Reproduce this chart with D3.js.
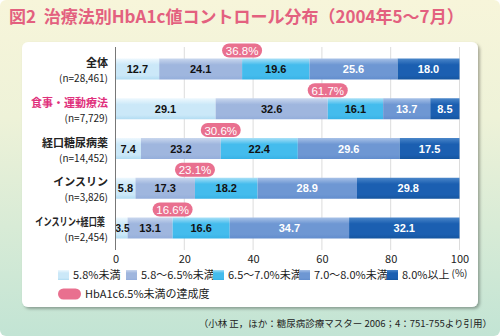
<!DOCTYPE html>
<html><head><meta charset="utf-8">
<script src="https://cdn.jsdelivr.net/npm/d3@7/dist/d3.min.js"></script>
<style>
html,body{margin:0;padding:0;background:#fff;}
svg{display:block;font-family:"Noto Sans CJK JP","Noto Sans",sans-serif;}
</style></head>
<body>
<svg id="chart" width="500" height="336"></svg>
<script>
const categories = ["全体","食事・運動療法","経口糖尿病薬","インスリン","インスリン+経口薬"];
const sampleSizes = ["28,461","7,729","14,452","3,826","2,454"];
const seriesNames = ["5.8%未満","5.8〜6.5%未満","6.5〜7.0%未満","7.0〜8.0%未満","8.0%以上"];
const s1 = [12.7, 29.1, 7.4, 5.8, 3.5];
const s2 = [24.1, 32.6, 23.2, 17.3, 13.1];
const s3 = [19.6, 16.1, 22.4, 18.2, 16.6];
const s4 = [25.6, 13.7, 29.6, 28.9, 34.7];
const s5 = [18.0, 8.5, 17.5, 29.8, 32.1];
const achieved = [36.8, 61.7, 30.6, 23.1, 16.6];
const xTicks = [0, 20, 40, 60, 80, 100];

const seriesValues = [s1, s2, s3, s4, s5];
const colors = [
  {top:"#eef8fe", mid:"#cbe8f8", bot:"#b2dcf2", text:"#111"},
  {top:"#c9d7ee", mid:"#9fb6de", bot:"#94aedb", text:"#111"},
  {top:"#a9e0f7", mid:"#44bced", bot:"#38b2e6", text:"#111"},
  {top:"#a7c1e7", mid:"#6e97d3", bot:"#628dcd", text:"#fff"},
  {top:"#4a86c9", mid:"#1b5fb1", bot:"#15559f", text:"#fff"}
];
const pink = "#e9708f";

const svg = d3.select("#chart");
const defs = svg.append("defs");

const bg = defs.append("linearGradient").attr("id","bg").attr("x1",0).attr("y1",0).attr("x2",0).attr("y2",1);
bg.append("stop").attr("offset","0").attr("stop-color","#f7f5da");
bg.append("stop").attr("offset","0.35").attr("stop-color","#eef2d8");
bg.append("stop").attr("offset","1").attr("stop-color","#c2e4d4");

colors.forEach((c,i)=>{
  const g = defs.append("linearGradient").attr("id","g"+i).attr("x1",0).attr("y1",0).attr("x2",0).attr("y2",1);
  g.append("stop").attr("offset","0").attr("stop-color",c.top);
  g.append("stop").attr("offset","0.3").attr("stop-color",c.mid);
  g.append("stop").attr("offset","0.8").attr("stop-color",c.mid);
  g.append("stop").attr("offset","1").attr("stop-color",c.bot);
});
const sh = defs.append("filter").attr("id","shadow").attr("x","-5%").attr("y","-5%").attr("width","110%").attr("height","115%");
sh.append("feDropShadow").attr("dx",2).attr("dy",2).attr("stdDeviation",1.5).attr("flood-color","#000").attr("flood-opacity",0.3);

// background
svg.append("rect").attr("x",0).attr("y",0).attr("width",500).attr("height",336).attr("rx",6).attr("fill","url(#bg)");

// title
svg.append("text").attr("x",9).attr("y",23).attr("fill","#e3607f").attr("font-size",17).attr("font-weight","bold")
  .attr("xml:space","preserve")
  .text("図2  治療法別HbA1c値コントロール分布（2004年5〜7月）");

// inner panel
svg.append("rect").attr("x",22).attr("y",42).attr("width",456).attr("height",265).attr("rx",6)
  .attr("fill","#fff").attr("filter","url(#shadow)");

const x = d3.scaleLinear().domain([0,100]).range([115.5,459.5]);
const yc = d3.scalePoint().domain(categories).range([69,228]);
const barH = 21;
const plotTop = 47, plotBottom = 250;

// gridlines
svg.append("g").selectAll("line").data(xTicks.slice(1)).join("line")
  .attr("x1",d=>x(d)).attr("x2",d=>x(d)).attr("y1",plotTop).attr("y2",plotBottom)
  .attr("stroke","#dcdcdc").attr("stroke-width",1);

// axis ticks text
const xAxis = d3.axisBottom(x).tickValues(xTicks).tickSize(0).tickPadding(0);
const ax = svg.append("g").attr("transform",`translate(0,${plotBottom+5})`).call(xAxis);
ax.select(".domain").remove();
ax.selectAll("text").attr("font-size",11).attr("fill","#222").attr("font-family","'Noto Sans CJK JP',sans-serif").attr("dy","0.71em");
svg.append("text").attr("x",x(100)).attr("y",277).attr("text-anchor","middle").attr("font-size",10).attr("fill","#222").text("(%)");

// bars
const rows = categories.map((c,i)=>{
  let acc = 0;
  return seriesValues.map((s,k)=>{ const seg = {cat:c, k, v:s[i], x0:acc, x1:acc+s[i]}; acc += s[i]; return seg; });
});
const gRows = svg.append("g").selectAll("g").data(rows).join("g");
gRows.selectAll("rect").data(d=>d).join("rect")
  .attr("x",d=>x(d.x0)).attr("width",d=>Math.max(0, x(Math.min(d.x1,100))-x(d.x0)))
  .attr("y",d=>yc(d.cat)-barH/2).attr("height",barH)
  .attr("fill",d=>`url(#g${d.k})`);
gRows.selectAll("text").data(d=>d).join("text")
  .attr("x",d=>x((d.x0+Math.min(d.x1,100))/2) + (d.v<5?1:0)).attr("y",d=>yc(d.cat)+4)
  .attr("text-anchor","middle").attr("font-size",d=>d.v<5?10:11)
  .attr("font-family","'Liberation Sans',Arial,sans-serif").attr("font-weight","bold")
  .attr("fill",d=>colors[d.k].text).text(d=>d.v.toFixed(1));

// axis line
svg.append("line").attr("x1",x(0)).attr("x2",x(0)).attr("y1",plotTop).attr("y2",plotBottom).attr("stroke","#777").attr("stroke-width",1);

// pills
const pills = svg.append("g").selectAll("g").data(categories).join("g")
  .attr("transform",(d,i)=>`translate(${x(achieved[i])},${yc(d)-barH/2-8})`);
pills.append("rect").attr("x",-20).attr("y",-7).attr("width",40).attr("height",14).attr("rx",7).attr("fill",pink);
pills.append("text").attr("y",4.5).attr("text-anchor","middle").attr("fill","#fff").attr("font-size",11.5)
  .attr("font-family","'Liberation Sans',Arial,sans-serif").text((d,i)=>achieved[i].toFixed(1)+"%");

// row labels
const labels = svg.append("g").selectAll("g").data(categories).join("g")
  .attr("transform",d=>`translate(108,${yc(d)})`);
labels.append("g")
  .attr("transform",d=> d.length > 7 ? "translate(-3,0) scale(0.74,1)" : null)
  .append("text").attr("y",-2).attr("text-anchor","end").attr("font-size",11).attr("font-weight","bold")
  .attr("fill",(d,i)=>i===1?"#e0307c":"#222")
  .text(d=>d);
labels.append("text").attr("y",13).attr("text-anchor","end").attr("font-size",10).attr("fill","#222")
  .text((d,i)=>`(n=${sampleSizes[i]})`);

// legend
const legX = [58, 126, 213, 299, 387];
const leg = svg.append("g").selectAll("g").data(seriesNames).join("g")
  .attr("transform",(d,i)=>`translate(${legX[i]},275)`);
leg.append("rect").attr("x",0).attr("y",-5).attr("width",11).attr("height",10).attr("fill",(d,i)=>`url(#g${i})`);
leg.append("text").attr("x",15).attr("y",4).attr("font-size",11).attr("fill","#222").text(d=>d);
const leg2 = svg.append("g").attr("transform","translate(58,294)");
leg2.append("rect").attr("x",0).attr("y",-5.5).attr("width",23).attr("height",11).attr("rx",5.5).attr("fill",pink);
leg2.append("text").attr("x",27).attr("y",4).attr("font-size",11).attr("fill","#222").text("HbA1c6.5%未満の達成度");

// source
svg.append("text").attr("x",492).attr("y",327).attr("text-anchor","end").attr("font-size",9.5).attr("fill","#222")
  .text("（小林 正，ほか：糖尿病診療マスター 2006；4：751-755より引用）");
</script>
</body></html>
